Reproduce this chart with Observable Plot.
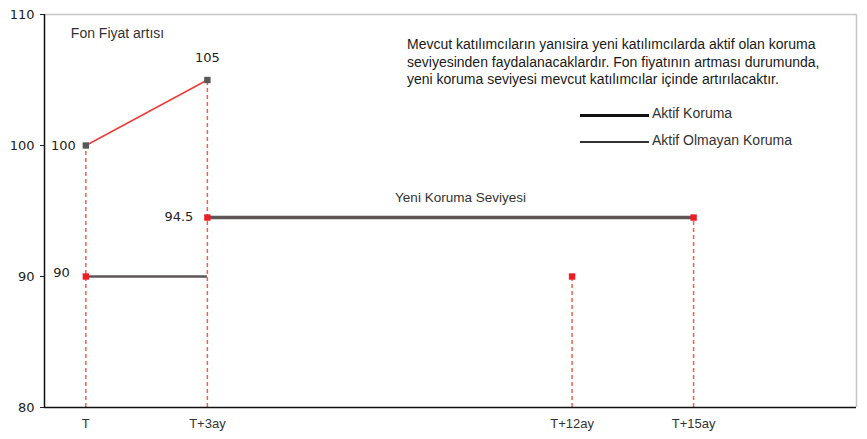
<!DOCTYPE html>
<html>
<head>
<meta charset="utf-8">
<script src="https://cdn.jsdelivr.net/npm/d3@7"></script>
<script src="https://cdn.jsdelivr.net/npm/@observablehq/plot@0.6"></script>
<style>
  body { margin: 0; background: #fff; }
  #wrap { position: relative; width: 867px; height: 439px; }
  .note {
    position: absolute; left: 407px; top: 36px;
    font: 14px "Liberation Sans", Arial, sans-serif; line-height: 17.5px; color: #1a1a1a;
    white-space: nowrap;
  }
  .legend { position: absolute; left: 580px; font: 14px "Liberation Sans", Arial, sans-serif; color: #333; }
  .legend .item { position: absolute; left: 0; white-space: nowrap; height: 0; }
  .legend .swatch { position: absolute; left: 0; width: 69px; }
  .legend .label { position: absolute; left: 72px; top: -10px; }
</style>
</head>
<body>
<div id="wrap"></div>
<script>
// Time axis (months after start) and its labels
const months = [0, 3, 12, 15];
const monthLabels = ["T", "T+3ay", "T+12ay", "T+15ay"];
const yTicks = [80, 90, 100, 110];

// Fund price path
const priceMonths = [0, 3];
const priceValues = [100, 105];

// Protection levels: inactive (old) and active (new)
const inactiveSpan = [0, 3];
const inactiveLevel = 90;
const activeSpan = [3, 15];
const activeLevel = 94.5;

// Protection markers and vertical drop lines
const floorMonths = [0, 3, 12, 15];
const floorValues = [90, 94.5, 90, 94.5];
const dropTops = [100, 105, 90, 94.5];

const noteLines = [
  "Mevcut katılımcıların yanısira yeni katılımcılarda aktif olan koruma",
  "seviyesinden faydalanacaklardır. Fon fiyatının artması durumunda,",
  "yeni koruma seviyesi mevcut katılımcılar içinde artırılacaktır."
];
const legendItems = ["Aktif Koruma", "Aktif Olmayan Koruma"];

const xDomain = [-1.02, 19.02];
const yDomain = [80, 110];

const price = priceMonths.map((m, i) => ({m, v: priceValues[i]}));
const floors = floorMonths.map((m, i) => ({m, v: floorValues[i]}));
const drops = months.map((m, i) => ({m, top: dropTops[i]}));

const numFont = "DejaVu Sans, Verdana, sans-serif";
const txtFont = "Liberation Sans, Arial, sans-serif";
const red = "#f03a3a";
const dashRed = "#f2604f";
const gray = "#5e5656";

const chart = Plot.plot({
  width: 867,
  height: 439,
  marginLeft: 44,
  marginRight: 11,
  marginTop: 14,
  marginBottom: 32,
  x: {domain: xDomain, axis: null, label: null},
  y: {domain: yDomain, axis: null, label: null},
  style: {background: "#fff", overflow: "visible"},
  marks: [
    // frame: light top/right, black left/bottom
    Plot.ruleY([yDomain[1]], {stroke: "#c9c6c6", strokeWidth: 1.5}),
    Plot.ruleX([xDomain[1]], {stroke: "#c9c6c6", strokeWidth: 1.5}),
    // dashed drop lines
    Plot.ruleX(drops, {x: "m", y1: yDomain[0], y2: "top", stroke: dashRed, strokeWidth: 1.5, strokeDasharray: "4,3"}),
    // protection levels
    Plot.ruleY([inactiveLevel], {x1: inactiveSpan[0], x2: inactiveSpan[1], stroke: gray, strokeWidth: 2.5}),
    Plot.ruleY([activeLevel], {x1: activeSpan[0], x2: activeSpan[1], stroke: gray, strokeWidth: 3.5}),
    // price path
    Plot.line(price, {x: "m", y: "v", stroke: red, strokeWidth: 1.5}),
    Plot.dot(price, {x: "m", y: "v", symbol: "square", r: 3.6, fill: "#585858", stroke: null}),
    Plot.dot(floors, {x: "m", y: "v", symbol: "square", r: 3.6, fill: "#ee1c24", stroke: null}),
    // value labels
    Plot.text([price[0]], {x: "m", y: "v", text: d => String(d.v), textAnchor: "end", dx: -10, fontSize: 13, fontFamily: numFont, fill: "#222"}),
    Plot.text([price[1]], {x: "m", y: "v", text: d => String(d.v), dy: -22, fontSize: 13, fontFamily: numFont, fill: "#222"}),
    Plot.text([floors[1]], {x: "m", y: "v", text: d => String(d.v), textAnchor: "end", dx: -14, dy: -1, fontSize: 13, fontFamily: numFont, fill: "#222"}),
    Plot.text([floors[0]], {x: "m", y: "v", text: d => String(d.v), textAnchor: "end", dx: -16, dy: -4, fontSize: 13, fontFamily: numFont, fill: "#222"}),
    // annotations
    Plot.text(["Fon Fiyat artısı"], {x: priceMonths[0], y: yDomain[1], text: d => d, textAnchor: "start", dx: -15, dy: 19, fontSize: 14, fontFamily: txtFont, fill: "#333"}),
    Plot.text(["Yeni Koruma Seviyesi"], {x: (activeSpan[0] + activeSpan[1]) / 2, y: activeLevel, text: d => d, dx: 10, dy: -20, fontSize: 13.5, fontFamily: txtFont, fill: "#333"}),
    // axes
    Plot.axisY(yTicks, {anchor: "left", label: null, tickSize: 4, tickPadding: 6, fontSize: 13, fontFamily: numFont, color: "#222", tickFormat: d => String(d)}),
    Plot.axisX(months, {anchor: "bottom", label: null, tickSize: 0, tickPadding: 11, fontSize: 13, fontFamily: txtFont, color: "#333", tickFormat: (d, i) => monthLabels[i]}),
    Plot.ruleX([xDomain[0]], {stroke: "#111", strokeWidth: 1.5}),
    Plot.ruleY([yDomain[0]], {stroke: "#111", strokeWidth: 1.5})
  ]
});

const wrap = document.getElementById("wrap");
wrap.appendChild(chart);

const note = document.createElement("div");
note.className = "note";
note.innerHTML = noteLines.join("<br>");
wrap.appendChild(note);

const legend = document.createElement("div");
legend.className = "legend";
legend.style.top = "0px";
const swatches = [{top: 115, w: 3, c: "#111"}, {top: 142, w: 2, c: "#333"}];
legendItems.forEach((name, i) => {
  const item = document.createElement("div");
  item.className = "item";
  item.style.top = swatches[i].top + "px";
  const sw = document.createElement("div");
  sw.className = "swatch";
  sw.style.borderTop = swatches[i].w + "px solid " + swatches[i].c;
  sw.style.top = (-swatches[i].w / 2) + "px";
  const lb = document.createElement("span");
  lb.className = "label";
  lb.textContent = name;
  item.appendChild(sw);
  item.appendChild(lb);
  legend.appendChild(item);
});
wrap.appendChild(legend);
</script>
</body>
</html>
